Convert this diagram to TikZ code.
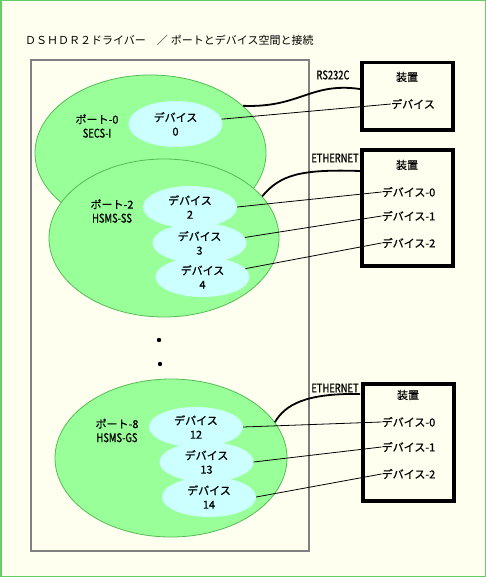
\documentclass[tikz,border=0pt]{standalone}
\usepackage{fontspec}
\setmainfont{Noto Sans CJK JP}
\newfontfamily\jpb[FakeBold=0.7]{Noto Sans CJK JP}
\newfontfamily\latn[FakeStretch=0.78,FakeBold=0.7]{Noto Sans CJK JP}
\usetikzlibrary{shapes.geometric}
\definecolor{bg}{HTML}{FFFFF0}
\definecolor{frame}{HTML}{66CC66}
\definecolor{portfill}{HTML}{99FF99}
\definecolor{portline}{HTML}{55BB55}
\definecolor{devfill}{HTML}{CCFFFF}
\definecolor{innerline}{HTML}{808080}
\begin{document}
\begin{tikzpicture}[x=1pt,y=-1pt,
 txt/.style={font=\fontsize{11}{14}\selectfont\jpb, inner sep=0pt, align=center},
 lat/.style={font=\fontsize{12}{14}\selectfont\latn, inner sep=0pt, align=center},
 port/.style={ellipse, fill=portfill, draw=portline, line width=0.8pt, inner sep=0pt},
 dev/.style={ellipse, fill=devfill, inner sep=0pt, minimum width=94pt, minimum height=40pt, font=\fontsize{11}{14}\selectfont\jpb, align=center},
 devbox/.style={draw=black, line width=3.5pt, rectangle, inner sep=0pt, minimum width=91pt},
 wire/.style={line width=0.8pt},
 cable/.style={line width=1.8pt},
]
\useasboundingbox (0,0) rectangle (486,577);
\fill[bg] (0,0) rectangle (486,577);
\draw[frame, line width=1.5pt] (0.75,0.75) rectangle (485.25,576.25);
\draw[innerline, line width=1.2pt] (31,60) rectangle (309,551);

\node[font=\fontsize{11}{14}\selectfont, inner sep=0pt, anchor=west] (title) at (25,40) {ＤＳＨＤＲ２ドライバー　／\hspace{3pt}ポートとデバイス空間と接続};

% ports
\node[port, minimum width=231pt, minimum height=156pt] (p0) at (150.5,153) {};
\node[port, minimum width=230pt, minimum height=158pt] (p2) at (164,238) {};
\node[port, minimum width=232pt, minimum height=158pt] (p8) at (171,458) {};

\node[txt] (l0) at (97,126) {ポート-0\\{\latn\fontsize{12}{14}\selectfont SECS-I}};
\node[txt] (l2) at (112,211) {ポート-2\\{\latn\fontsize{12}{14}\selectfont HSMS-SS}};
\node[txt] (l8) at (117,430.5) {ポート-8\\{\latn\fontsize{12}{14}\selectfont HSMS-GS}};

% devices
\node[dev, minimum height=46pt] (d0) at (175.5,124) {デバイス\\0};
\node[dev, minimum height=42pt] (d2) at (190,207) {デバイス\\2};
\node[dev] (d3) at (199.5,243) {デバイス\\3};
\node[dev] (d4) at (202.5,277) {デバイス\\4};
\node[dev] (d12) at (196,427) {デバイス\\12};
\node[dev] (d13) at (206.5,462) {デバイス\\13};
\node[dev] (d14) at (209,497) {デバイス\\14};

% dots
\fill (159,340) circle (2.2pt);
\fill (160,364) circle (2.2pt);

% equipment boxes
\node[devbox, minimum height=67.5pt] (b1) at (407.5,96.5) {};
\node[devbox, minimum height=116pt] (b2) at (407.5,208) {};
\node[devbox, minimum height=117pt] (b3) at (408.5,442.5) {};

\node[txt] (t1) at (407,77) {装置};
\node[txt] (e1) at (413,104) {デバイス};
\node[txt] (t2) at (407,165) {装置};
\node[txt] (e20) at (408.5,192) {デバイス-0};
\node[txt] (e21) at (408.5,216) {デバイス-1};
\node[txt] (e22) at (408.5,243) {デバイス-2};
\node[txt] (t3) at (408,395) {装置};
\node[txt] (e30) at (408.5,422) {デバイス-0};
\node[txt] (e31) at (408.5,447) {デバイス-1};
\node[txt] (e32) at (408.5,474) {デバイス-2};

\node[lat] (rs) at (333,75) {RS232C};
\node[lat] (eth1) at (335,158) {ETHERNET};
\node[lat] (eth2) at (335,388) {ETHERNET};

% cable ends
\coordinate (c1) at (360,89);
\coordinate (c2) at (360,171);
\coordinate (c3) at (360,394);

\draw[cable] (p0.27) .. controls (300,108) and (310,82) .. (c1);
\draw[cable] (p2.23) .. controls (280,175) and (300,169) .. (c2);
\draw[cable] (p8.19) .. controls (285,405) and (305,393) .. (c3);

% wires
\draw[wire] (d0.6) -- (e1.west);
\draw[wire] (d2.east) -- (e20.west);
\draw[wire] (d3.7) -- (e21.west);
\draw[wire] (d4.11) -- (e22.west);
\draw[wire] (d12.east) -- (e30.west);
\draw[wire] (d13.east) -- (e31.west);
\draw[wire] (d14.east) -- (e32.west);
\end{tikzpicture}
\end{document}
